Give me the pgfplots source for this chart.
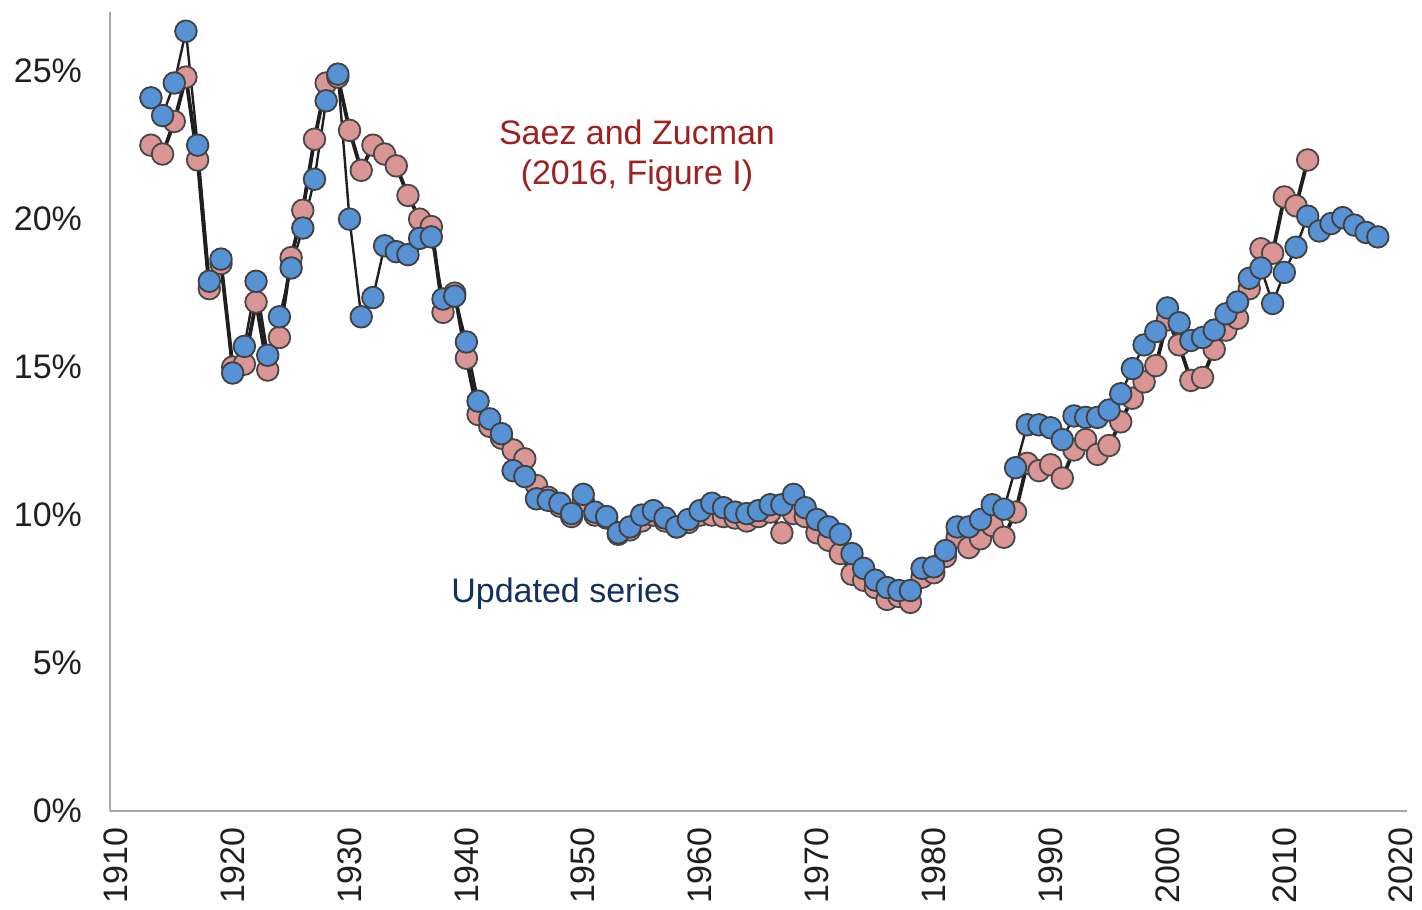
\documentclass[border=0pt]{standalone}
\usepackage{pgfplots}
\pgfplotsset{compat=1.18}
\usepackage{pgfplotstable}
\usepackage{fontspec}
\setmainfont{Liberation Sans}
\definecolor{szred}{RGB}{218,150,148}
\definecolor{updblue}{RGB}{86,146,212}
\definecolor{txtred}{RGB}{158,32,32}
\definecolor{txtnavy}{RGB}{20,48,94}
\definecolor{axgray}{RGB}{168,168,168}

\pgfplotstableread{
year val
1913 22.5
1914 22.2
1915 23.3
1916 24.8
1917 22.0
1918 17.65
1919 18.5
1920 15.0
1921 15.1
1922 17.2
1923 14.9
1924 16.0
1925 18.7
1926 20.3
1927 22.7
1928 24.6
1929 24.8
1930 23.0
1931 21.65
1932 22.5
1933 22.2
1934 21.8
1935 20.8
1936 20.0
1937 19.75
1938 16.85
1939 17.5
1940 15.3
1941 13.4
1942 13.0
1943 12.6
1944 12.2
1945 11.9
1946 11.0
1947 10.6
1948 10.3
1949 9.95
1950 10.5
1951 10.0
1952 9.9
1953 9.35
1954 9.5
1955 9.8
1956 10.0
1957 9.8
1958 9.6
1959 9.75
1960 10.0
1961 10.0
1962 9.95
1963 9.9
1964 9.8
1965 9.95
1966 10.1
1967 9.4
1968 10.05
1969 9.95
1970 9.4
1971 9.15
1972 8.7
1973 8.0
1974 7.8
1975 7.55
1976 7.15
1977 7.25
1978 7.05
1979 7.9
1980 8.05
1981 8.6
1982 9.25
1983 8.9
1984 9.2
1985 9.65
1986 9.25
1987 10.1
1988 11.75
1989 11.5
1990 11.7
1991 11.25
1992 12.2
1993 12.55
1994 12.05
1995 12.35
1996 13.15
1997 13.95
1998 14.5
1999 15.05
2000 16.6
2001 15.75
2002 14.55
2003 14.65
2004 15.6
2005 16.25
2006 16.65
2007 17.65
2008 19.0
2009 18.85
2010 20.75
2011 20.45
2012 22.0
}\szdata

\pgfplotstableread{
year val
1913 24.1
1914 23.5
1915 24.6
1916 26.35
1917 22.5
1918 17.9
1919 18.65
1920 14.8
1921 15.7
1922 17.9
1923 15.4
1924 16.7
1925 18.35
1926 19.7
1927 21.35
1928 24.0
1929 24.9
1930 20.0
1931 16.7
1932 17.35
1933 19.1
1934 18.9
1935 18.8
1936 19.35
1937 19.4
1938 17.3
1939 17.4
1940 15.85
1941 13.85
1942 13.25
1943 12.75
1944 11.5
1945 11.3
1946 10.55
1947 10.5
1948 10.4
1949 10.05
1950 10.7
1951 10.1
1952 9.95
1953 9.4
1954 9.6
1955 10.0
1956 10.15
1957 9.9
1958 9.6
1959 9.85
1960 10.15
1961 10.4
1962 10.25
1963 10.1
1964 10.05
1965 10.15
1966 10.35
1967 10.35
1968 10.7
1969 10.25
1970 9.85
1971 9.6
1972 9.35
1973 8.7
1974 8.2
1975 7.8
1976 7.55
1977 7.45
1978 7.45
1979 8.2
1980 8.25
1981 8.8
1982 9.6
1983 9.6
1984 9.85
1985 10.35
1986 10.2
1987 11.6
1988 13.05
1989 13.05
1990 12.95
1991 12.55
1992 13.35
1993 13.3
1994 13.3
1995 13.55
1996 14.1
1997 14.95
1998 15.75
1999 16.2
2000 17.0
2001 16.5
2002 15.9
2003 16.0
2004 16.25
2005 16.8
2006 17.2
2007 18.0
2008 18.35
2009 17.15
2010 18.2
2011 19.05
2012 20.1
2013 19.6
2014 19.85
2015 20.05
2016 19.8
2017 19.55
2018 19.4
}\upddata

\begin{document}
\begin{tikzpicture}
\path[use as bounding box] (-55pt,-49pt) rectangle (656pt,405.5pt);
\begin{axis}[
  at={(0,0)}, anchor=south west, scale only axis,
  width=648.5pt, height=399.5pt,
  xmin=1909.5, xmax=2020.5, ymin=0, ymax=27,
  axis x line*=bottom, axis y line*=left,
  axis line style={axgray, line width=0.8pt},
  xtick={1910,1920,...,2020}, ytick={0,5,...,25},
  major tick length=0pt,
  /pgf/number format/1000 sep={},
  /pgf/number format/assume math mode=true,
  tick label style={font=\fontsize{17}{19}\selectfont, text=black!88},
  xticklabel style={rotate=90, anchor=east},
  xticklabel shift=5pt,
  yticklabel shift=10.5pt,
  yticklabel={\pgfmathprintnumber{\tick}\%},
  clip=false,
]
\addplot[line width=1.9pt, color=black!88, mark=*, mark size=5.4pt,
  mark options={fill=szred, draw=black!72, line width=0.9pt}] table[x=year,y=val] {\szdata};
\addplot[line width=1.2pt, color=black!88, mark=*, mark size=5.4pt,
  mark options={fill=updblue, draw=black!75, line width=0.9pt}] table[x=year,y=val] {\upddata};
\node[text=txtred, align=center, font=\fontsize{17}{20}\selectfont] at (axis cs:1954.6,22.15) {Saez and Zucman\\(2016, Figure I)};
\node[text=txtnavy, font=\fontsize{17}{20}\selectfont] at (axis cs:1948.5,7.33) {Updated series};
\end{axis}
\end{tikzpicture}
\end{document}
